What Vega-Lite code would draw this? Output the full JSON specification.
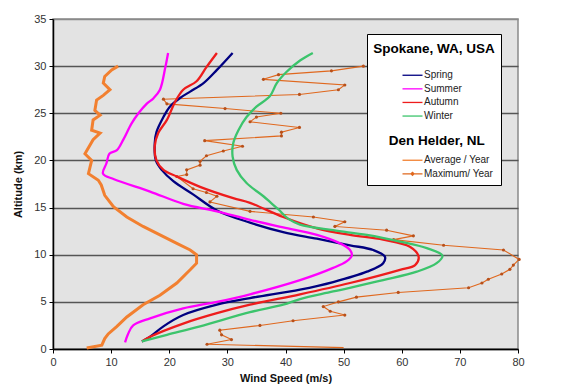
{
 "$schema": "https://vega.github.io/schema/vega-lite/v6.json",
 "width": 465, "height": 330,
 "autosize": {"type": "none"},
 "padding": {"left": 53, "top": 19, "right": 53, "bottom": 42},
 "background": "white",
 "config": {"view": {"fill": "#e3e3e3", "stroke": "#8a8a8a", "strokeWidth": 1.5}, "font": "Liberation Sans"},
 "data": {"values": [
  {"s":"Spring","x":15.3,"y":0.8},{"s":"Spring","x":16.7,"y":1.3},{"s":"Spring","x":19.0,"y":2.4},{"s":"Spring","x":22.4,"y":3.6},{"s":"Spring","x":28.2,"y":4.7},{"s":"Spring","x":33.9,"y":5.4},{"s":"Spring","x":42.5,"y":6.3},{"s":"Spring","x":48.2,"y":7.1},{"s":"Spring","x":54.0,"y":8.2},{"s":"Spring","x":56.8,"y":9.1},{"s":"Spring","x":57.1,"y":9.8},{"s":"Spring","x":55.1,"y":10.5},{"s":"Spring","x":51.1,"y":11.0},{"s":"Spring","x":45.4,"y":11.7},{"s":"Spring","x":39.6,"y":12.4},{"s":"Spring","x":33.9,"y":13.4},{"s":"Spring","x":28.2,"y":14.7},{"s":"Spring","x":24.1,"y":16.4},{"s":"Spring","x":20.7,"y":17.8},{"s":"Spring","x":18.7,"y":19.0},{"s":"Spring","x":17.7,"y":20.0},{"s":"Spring","x":17.5,"y":21.8},{"s":"Spring","x":17.8,"y":23.0},{"s":"Spring","x":19.0,"y":24.6},{"s":"Spring","x":20.1,"y":25.7},{"s":"Spring","x":21.8,"y":26.6},{"s":"Spring","x":23.6,"y":27.3},{"s":"Spring","x":25.9,"y":28.2},{"s":"Spring","x":28.2,"y":29.6},{"s":"Spring","x":30.9,"y":31.4},
  {"s":"Summer","x":12.4,"y":0.7},{"s":"Summer","x":12.95,"y":1.65},{"s":"Summer","x":13.8,"y":2.5},{"s":"Summer","x":16.7,"y":3.25},{"s":"Summer","x":22.4,"y":4.3},{"s":"Summer","x":28.2,"y":5.0},{"s":"Summer","x":33.9,"y":5.8},{"s":"Summer","x":42.5,"y":7.3},{"s":"Summer","x":48.2,"y":8.6},{"s":"Summer","x":50.5,"y":9.3},{"s":"Summer","x":51.4,"y":9.9},{"s":"Summer","x":51.1,"y":10.5},{"s":"Summer","x":49.4,"y":11.2},{"s":"Summer","x":45.4,"y":12.1},{"s":"Summer","x":39.6,"y":12.9},{"s":"Summer","x":33.9,"y":13.7},{"s":"Summer","x":28.2,"y":14.6},{"s":"Summer","x":22.4,"y":15.4},{"s":"Summer","x":16.7,"y":16.7},{"s":"Summer","x":10.5,"y":18.0},{"s":"Summer","x":8.6,"y":18.6},{"s":"Summer","x":9.2,"y":19.7},{"s":"Summer","x":9.7,"y":20.7},{"s":"Summer","x":11.0,"y":21.1},{"s":"Summer","x":12.1,"y":22.2},{"s":"Summer","x":13.5,"y":23.9},{"s":"Summer","x":14.7,"y":25.0},{"s":"Summer","x":16.1,"y":26.0},{"s":"Summer","x":17.3,"y":26.6},{"s":"Summer","x":18.4,"y":27.5},{"s":"Summer","x":19.3,"y":29.8},{"s":"Summer","x":19.8,"y":31.4},
  {"s":"Autumn","x":15.3,"y":0.8},{"s":"Autumn","x":16.7,"y":1.3},{"s":"Autumn","x":22.4,"y":2.7},{"s":"Autumn","x":28.2,"y":3.8},{"s":"Autumn","x":33.9,"y":4.7},{"s":"Autumn","x":42.5,"y":5.8},{"s":"Autumn","x":51.1,"y":7.0},{"s":"Autumn","x":59.7,"y":8.4},{"s":"Autumn","x":62.3,"y":8.9},{"s":"Autumn","x":62.9,"y":9.8},{"s":"Autumn","x":61.4,"y":10.85},{"s":"Autumn","x":56.8,"y":11.6},{"s":"Autumn","x":51.1,"y":12.1},{"s":"Autumn","x":45.4,"y":12.8},{"s":"Autumn","x":39.6,"y":14.0},{"s":"Autumn","x":33.9,"y":15.5},{"s":"Autumn","x":31.0,"y":16.0},{"s":"Autumn","x":25.3,"y":17.2},{"s":"Autumn","x":21.3,"y":18.3},{"s":"Autumn","x":19.0,"y":19.0},{"s":"Autumn","x":17.8,"y":20.0},{"s":"Autumn","x":17.5,"y":21.5},{"s":"Autumn","x":18.1,"y":22.9},{"s":"Autumn","x":19.6,"y":24.3},{"s":"Autumn","x":21.0,"y":26.2},{"s":"Autumn","x":22.4,"y":27.5},{"s":"Autumn","x":24.7,"y":28.4},{"s":"Autumn","x":26.4,"y":29.9},{"s":"Autumn","x":28.2,"y":31.4},
  {"s":"Winter","x":15.3,"y":0.8},{"s":"Winter","x":19.6,"y":1.5},{"s":"Winter","x":25.3,"y":2.4},{"s":"Winter","x":33.9,"y":3.9},{"s":"Winter","x":39.6,"y":4.7},{"s":"Winter","x":42.5,"y":5.3},{"s":"Winter","x":48.2,"y":6.1},{"s":"Winter","x":56.8,"y":7.3},{"s":"Winter","x":62.6,"y":8.2},{"s":"Winter","x":66.0,"y":9.1},{"s":"Winter","x":67.0,"y":9.9},{"s":"Winter","x":64.3,"y":10.7},{"s":"Winter","x":59.7,"y":11.4},{"s":"Winter","x":54.0,"y":12.1},{"s":"Winter","x":48.2,"y":12.6},{"s":"Winter","x":42.5,"y":13.2},{"s":"Winter","x":40.5,"y":13.8},{"s":"Winter","x":38.8,"y":14.8},{"s":"Winter","x":37.5,"y":15.5},{"s":"Winter","x":36.2,"y":16.2},{"s":"Winter","x":33.3,"y":17.6},{"s":"Winter","x":31.6,"y":19.0},{"s":"Winter","x":30.9,"y":20.4},{"s":"Winter","x":31.0,"y":21.8},{"s":"Winter","x":31.9,"y":23.2},{"s":"Winter","x":33.3,"y":24.6},{"s":"Winter","x":35.0,"y":25.7},{"s":"Winter","x":37.3,"y":26.8},{"s":"Winter","x":38.5,"y":28.2},{"s":"Winter","x":40.2,"y":29.4},{"s":"Winter","x":42.5,"y":30.6},{"s":"Winter","x":44.7,"y":31.4},
  {"s":"Average / Year","x":5.8,"y":0.1},{"s":"Average / Year","x":8.4,"y":0.4},{"s":"Average / Year","x":8.9,"y":1.1},{"s":"Average / Year","x":9.5,"y":1.6},{"s":"Average / Year","x":11.0,"y":2.4},{"s":"Average / Year","x":12.7,"y":3.4},{"s":"Average / Year","x":15.5,"y":4.7},{"s":"Average / Year","x":18.4,"y":5.7},{"s":"Average / Year","x":21.3,"y":7.0},{"s":"Average / Year","x":23.6,"y":8.4},{"s":"Average / Year","x":24.7,"y":9.1},{"s":"Average / Year","x":24.7,"y":10.0},{"s":"Average / Year","x":23.6,"y":10.5},{"s":"Average / Year","x":21.3,"y":11.2},{"s":"Average / Year","x":18.4,"y":12.1},{"s":"Average / Year","x":15.5,"y":13.0},{"s":"Average / Year","x":12.7,"y":14.0},{"s":"Average / Year","x":10.4,"y":15.1},{"s":"Average / Year","x":8.9,"y":16.3},{"s":"Average / Year","x":8.3,"y":17.4},{"s":"Average / Year","x":7.8,"y":17.9},{"s":"Average / Year","x":6.1,"y":18.6},{"s":"Average / Year","x":6.65,"y":20.0},{"s":"Average / Year","x":5.5,"y":20.7},{"s":"Average / Year","x":6.9,"y":22.2},{"s":"Average / Year","x":8.1,"y":22.9},{"s":"Average / Year","x":6.65,"y":23.2},{"s":"Average / Year","x":6.9,"y":24.3},{"s":"Average / Year","x":8.1,"y":24.8},{"s":"Average / Year","x":7.2,"y":25.3},{"s":"Average / Year","x":7.5,"y":26.4},{"s":"Average / Year","x":8.65,"y":26.9},{"s":"Average / Year","x":9.8,"y":27.5},{"s":"Average / Year","x":8.65,"y":28.2},{"s":"Average / Year","x":8.9,"y":28.9},{"s":"Average / Year","x":10.1,"y":29.6},{"s":"Average / Year","x":11.2,"y":30.0},
  {"s":"Maximum/ Year","x":50.0,"y":0.15},{"s":"Maximum/ Year","x":26.5,"y":0.5},{"s":"Maximum/ Year","x":30.7,"y":1.0},{"s":"Maximum/ Year","x":29.0,"y":1.5},{"s":"Maximum/ Year","x":28.7,"y":2.0},{"s":"Maximum/ Year","x":35.6,"y":2.5},{"s":"Maximum/ Year","x":41.3,"y":3.0},{"s":"Maximum/ Year","x":50.2,"y":3.6},{"s":"Maximum/ Year","x":47.7,"y":4.0},{"s":"Maximum/ Year","x":46.5,"y":4.5},{"s":"Maximum/ Year","x":49.1,"y":5.0},{"s":"Maximum/ Year","x":52.2,"y":5.5},{"s":"Maximum/ Year","x":59.4,"y":6.0},{"s":"Maximum/ Year","x":71.5,"y":6.5},{"s":"Maximum/ Year","x":73.8,"y":7.0},{"s":"Maximum/ Year","x":74.9,"y":7.4},{"s":"Maximum/ Year","x":77.2,"y":7.95},{"s":"Maximum/ Year","x":78.6,"y":8.45},{"s":"Maximum/ Year","x":79.2,"y":8.9},{"s":"Maximum/ Year","x":80.2,"y":9.5},{"s":"Maximum/ Year","x":77.5,"y":10.5},{"s":"Maximum/ Year","x":67.2,"y":11.0},{"s":"Maximum/ Year","x":58.6,"y":11.6},{"s":"Maximum/ Year","x":62.0,"y":12.0},{"s":"Maximum/ Year","x":57.4,"y":12.6},{"s":"Maximum/ Year","x":48.5,"y":13.0},{"s":"Maximum/ Year","x":50.2,"y":13.5},{"s":"Maximum/ Year","x":44.8,"y":14.0},{"s":"Maximum/ Year","x":33.9,"y":14.6},{"s":"Maximum/ Year","x":27.0,"y":15.6},{"s":"Maximum/ Year","x":28.2,"y":16.2},{"s":"Maximum/ Year","x":26.4,"y":16.6},{"s":"Maximum/ Year","x":24.1,"y":17.0},{"s":"Maximum/ Year","x":21.3,"y":18.3},{"s":"Maximum/ Year","x":23.0,"y":18.5},{"s":"Maximum/ Year","x":23.0,"y":19.0},{"s":"Maximum/ Year","x":25.3,"y":19.5},{"s":"Maximum/ Year","x":25.3,"y":19.9},{"s":"Maximum/ Year","x":26.4,"y":20.5},{"s":"Maximum/ Year","x":29.3,"y":21.0},{"s":"Maximum/ Year","x":32.6,"y":21.5},{"s":"Maximum/ Year","x":26.1,"y":22.1},{"s":"Maximum/ Year","x":39.3,"y":22.6},{"s":"Maximum/ Year","x":39.3,"y":23.0},{"s":"Maximum/ Year","x":42.4,"y":23.5},{"s":"Maximum/ Year","x":33.9,"y":24.1},{"s":"Maximum/ Year","x":35.0,"y":24.6},{"s":"Maximum/ Year","x":39.2,"y":25.0},{"s":"Maximum/ Year","x":29.6,"y":25.5},{"s":"Maximum/ Year","x":19.6,"y":26.0},{"s":"Maximum/ Year","x":19.0,"y":26.5},{"s":"Maximum/ Year","x":42.4,"y":27.0},{"s":"Maximum/ Year","x":49.1,"y":27.5},{"s":"Maximum/ Year","x":50.2,"y":28.0},{"s":"Maximum/ Year","x":36.2,"y":28.6},{"s":"Maximum/ Year","x":38.8,"y":29.1},{"s":"Maximum/ Year","x":47.9,"y":29.5},{"s":"Maximum/ Year","x":53.4,"y":30.0}
 ]},
 "encoding": {
  "x": {"field": "x", "type": "quantitative", "scale": {"domain": [0, 80], "nice": false, "zero": false},
   "axis": {"title": "Wind Speed (m/s)", "values": [0,10,20,30,40,50,60,70,80], "grid": false, "domainColor": "black", "domainWidth": 1.5, "tickColor": "black", "tickSize": 4, "labelFontSize": 11, "labelColor": "#333", "labelPadding": 3, "labelFlush": false, "titleFontSize": 11, "titleFontWeight": "bold", "titleColor": "#111", "titlePadding": 5}},
  "y": {"field": "y", "type": "quantitative", "scale": {"domain": [0, 35], "nice": false, "zero": false},
   "axis": {"title": "Altitude (km)", "values": [0,5,10,15,20,25,30,35], "grid": true, "gridColor": {"condition": {"test": "datum.value === 35", "value": "#8a8a8a"}, "value": "#555555"}, "gridWidth": 1.5, "domainColor": "black", "domainWidth": 1.5, "tickColor": "black", "tickSize": 4, "labelFontSize": 11, "labelColor": "#333", "labelPadding": 3, "titleFontSize": 11, "titleFontWeight": "bold", "titleColor": "#111", "titlePadding": 10}}
 },
 "layer": [
  {"transform": [{"filter": "datum.s === 'Maximum/ Year'"}],
   "mark": {"type": "line", "strokeWidth": 1.1},
   "encoding": {"order": {"field": "y", "type": "quantitative"},
    "color": {"field": "s", "type": "nominal",
     "scale": {"domain": ["Spring","Summer","Autumn","Winter","Den Helder, NL","Average / Year","Maximum/ Year"], "range": ["#000080","#ff00ff","#ee1c1c","#3cc46c","#ffffff","#f28030","#e0681e"]},
     "legend": {"orient": "none", "legendX": 314, "legendY": 15, "title": "Spokane, WA, USA",
      "titleFontSize": 13.5, "titleFontWeight": "bold", "titleColor": "#000", "titleAnchor": "middle", "titlePadding": 15.75,
      "fillColor": "white", "strokeColor": "black", "padding": 6,
      "labelFontSize": 10, "labelColor": "#222", "labelLimit": 200,
      "symbolSize": 100, "symbolStrokeWidth": 1.3, "rowPadding": 2.6,
      "encode": {
       "title": {"update": {"dy": {"value": 2}}},
       "symbols": {"update": {"x": {"value": 37.5},
        "shape": {"signal": "datum.label === 'Maximum/ Year' ? 'M-2,0H2M0.3,0L0,0.3L-0.3,0L0,-0.3Z' : (datum.label === 'Den Helder, NL' ? 'M0,-3.21V2.19' : 'M-2,0H2')"},
        "fill": {"signal": "datum.label === 'Maximum/ Year' ? '#b8501a' : 'transparent'"},
        "opacity": {"signal": "datum.label === 'Den Helder, NL' ? 0 : 1"}}},
       "labels": {"update": {"x": {"signal": "datum.label === 'Den Helder, NL' ? 13.7 : 49"},
        "fontSize": {"signal": "datum.label === 'Den Helder, NL' ? 13.5 : 10"},
        "fontWeight": {"signal": "datum.label === 'Den Helder, NL' ? 'bold' : 'normal'"},
        "fill": {"signal": "datum.label === 'Den Helder, NL' ? '#000' : '#222'"}}}
      }}}}},
  {"transform": [{"filter": "datum.s === 'Maximum/ Year' && datum.y > 0.3"}],
   "mark": {"type": "point", "filled": true, "size": 10, "color": "#b8501a", "opacity": 1}},
  {"transform": [{"filter": "datum.s === 'Average / Year'"}],
   "mark": {"type": "line", "strokeWidth": 3},
   "encoding": {"order": {"field": "y", "type": "quantitative"}, "color": {"field": "s", "type": "nominal"}}},
  {"transform": [{"filter": "datum.s === 'Spring' || datum.s === 'Summer' || datum.s === 'Autumn' || datum.s === 'Winter'"}],
   "mark": {"type": "line", "strokeWidth": 2.3, "interpolate": "catmull-rom"},
   "encoding": {"order": {"field": "y", "type": "quantitative"}, "color": {"field": "s", "type": "nominal"}}}
 ]
}
